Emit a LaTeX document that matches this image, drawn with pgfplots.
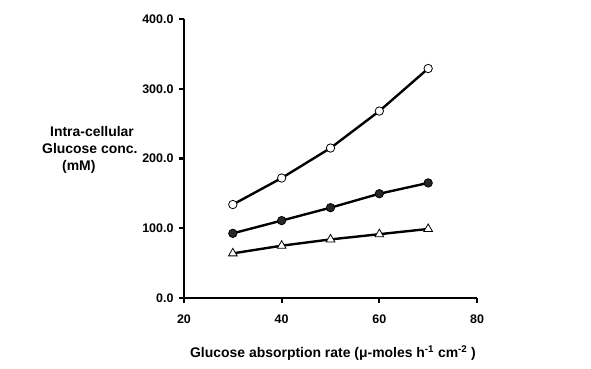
\documentclass[border=0pt]{standalone}
\usepackage{fontspec}
\setmainfont{Liberation Sans}
\usepackage{pgfplots}
\pgfplotsset{compat=1.18}
\begin{document}
\begin{tikzpicture}[x=1bp,y=1bp]
\path[use as bounding box] (-184,-70) rectangle (407,298);
\begin{axis}[
  at={(0,0)}, anchor=origin,
  scale only axis, width=293bp, height=279bp,
  xmin=20, xmax=80, ymin=0, ymax=400,
  axis x line*=bottom, axis y line*=left,
  axis line style={line width=2.3pt, -},
  xtick={20,40,60,80}, ytick={0,100,200,300,400},
  tick style={line width=2.3pt, black},
  tick align=outside, major tick length=5bp,
  /pgf/number format/assume math mode=true,
  ticklabel style={font=\fontsize{12.5}{14}\selectfont\bfseries},
  yticklabel style={xshift=-2bp, /pgf/number format/.cd, fixed, fixed zerofill, precision=1},
  xticklabel style={yshift=-8bp},
  clip=false,
]
\addplot[line width=2.4pt, mark=*, mark size=4.2bp, mark options={fill=white, draw=black, line width=0.8pt, solid}]
  coordinates {(30,134) (40,172) (50,215) (60,268) (70,329)};
\addplot[line width=2.4pt, mark=*, mark size=4.2bp, mark options={fill=black!85, draw=black, line width=0.8pt}]
  coordinates {(30,92.7) (40,111) (50,129.5) (60,149.5) (70,165)};
\addplot[line width=2.4pt, mark=triangle*, mark size=5bp, mark options={fill=white, draw=black, line width=0.8pt}]
  coordinates {(30,64) (40,75) (50,84) (60,91.5) (70,99)};
\end{axis}
\begin{scope}[font=\fontsize{14}{16}\selectfont\bfseries]
\node[anchor=west, inner sep=0pt] at (-134,166) {Intra-cellular};
\node[anchor=west, inner sep=0pt] at (-142,149) {Glucose conc.};
\node[anchor=west, inner sep=0pt] at (-122,131) {(mM)};
\node[inner sep=0pt] at (149,-55) {Glucose absorption rate (μ-moles h\textsuperscript{-1} cm\textsuperscript{-2} )};
\end{scope}
\end{tikzpicture}
\end{document}
